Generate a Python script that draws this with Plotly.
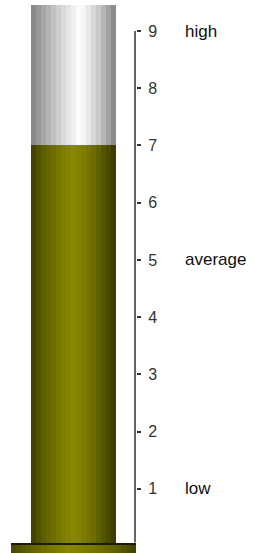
import plotly.graph_objects as go

# ---- data ----
value = [7]                     # current gauge value
tick_vals = [1, 2, 3, 4, 5, 6, 7, 8, 9]
band_vals = [1, 5, 9]
band_text = ["low", "average", "high"]
scale_max = [9.45]              # top of the tube

# ---- geometry / styling ----
W, H = 253, 553
L, R = 11, 117
Y0, Y1 = -0.122, 9.542
XL, XR = -0.235, 1.235
N = 17


def lerp_stops(stops, t):
    for (p0, c0), (p1, c1) in zip(stops[:-1], stops[1:]):
        if p0 <= t <= p1:
            f = (t - p0) / (p1 - p0) if p1 > p0 else 0
            return "rgb(%d,%d,%d)" % tuple(round(a + (b - a) * f) for a, b in zip(c0, c1))
    return "rgb(%d,%d,%d)" % stops[-1][1]


gray_stops = [(0, (130, 130, 130)), (0.12, (160, 160, 160)), (0.35, (212, 212, 212)),
              (0.58, (255, 255, 255)), (0.8, (200, 200, 200)), (1, (130, 130, 130))]
olive_stops = [(0, (62, 62, 0)), (0.15, (95, 95, 0)), (0.35, (122, 122, 0)),
               (0.5, (136, 136, 0)), (0.7, (115, 115, 0)), (0.88, (80, 80, 0)), (1, (55, 55, 0))]
plate_stops = [(0, (70, 70, 0)), (0.2, (105, 105, 0)), (0.45, (135, 135, 0)),
               (0.6, (125, 125, 0)), (0.85, (95, 95, 0)), (1, (65, 65, 0))]


def strips(x0, x1, n, stops):
    step = (x1 - x0) / n
    xs = [x0 + i * step for i in range(n)]
    ws = [step * 1.5 if i < n - 1 else step for i in range(n)]
    cols = [lerp_stops(stops, (i + 0.5) / n) for i in range(n)]
    return xs, ws, cols


fig = go.Figure()

col_base = 0.053
# gray empty part of the tube
xs, ws, cols = strips(0, 1, N, gray_stops)
fig.add_trace(go.Bar(x=xs, y=[scale_max[0] - value[0]] * N, base=[value[0]] * N,
                     width=ws, offset=0, marker=dict(color=cols, line=dict(width=0)),
                     hoverinfo="skip", showlegend=False))
# olive filled part
xs, ws, cols = strips(0, 1, N, olive_stops)
fig.add_trace(go.Bar(x=xs, y=[value[0] - col_base] * N, base=[col_base] * N,
                     width=ws, offset=0, marker=dict(color=cols, line=dict(width=0)),
                     hoverinfo="skip", showlegend=False))
# base plate
xs, ws, cols = strips(XL, XR, 25, plate_stops)
fig.add_trace(go.Bar(x=xs, y=[col_base - Y0] * 25, base=[Y0] * 25,
                     width=ws, offset=0, marker=dict(color=cols, line=dict(width=0)),
                     hoverinfo="skip", showlegend=False))
# plate top edge
fig.add_trace(go.Scatter(x=[XL, XR], y=[0.035, 0.035], mode="lines",
                         line=dict(color="#1c1c00", width=2), hoverinfo="skip", showlegend=False))
# axis line
ax_x = XR - 1.0 / 85
fig.add_trace(go.Scatter(x=[ax_x, ax_x], y=[0.06, tick_vals[-1]], mode="lines",
                         line=dict(color="#333333", width=1.5), hoverinfo="skip", showlegend=False))

for v, t in zip(band_vals, band_text):
    fig.add_annotation(x=(183 - L) / (W - L - R), xref="paper", y=v, yref="y",
                       text=t, showarrow=False, xanchor="left", yanchor="middle",
                       font=dict(family="Arial, Liberation Sans, sans-serif", size=17, color="#111111"))

fig.update_layout(
    width=W, height=H, margin=dict(l=L, r=R, t=0, b=0),
    paper_bgcolor="white", plot_bgcolor="white",
    barmode="overlay", bargap=0,
    xaxis=dict(range=[XL, XR], visible=False, fixedrange=True),
    yaxis=dict(range=[Y0, Y1], side="right", showgrid=False, zeroline=False, showline=False,
               tickmode="array", tickvals=tick_vals, ticktext=[str(v) for v in tick_vals],
               ticks="outside", ticklen=4, tickwidth=1.5, tickcolor="#333333",
               ticklabelstandoff=4,
               tickfont=dict(family="Arial, Liberation Sans, sans-serif", size=16, color="#333333"),
               fixedrange=True),
)

fig.write_html("out.html", config={"displayModeBar": False},
               post_script="document.body.style.margin='0';document.body.style.overflow='hidden';")
